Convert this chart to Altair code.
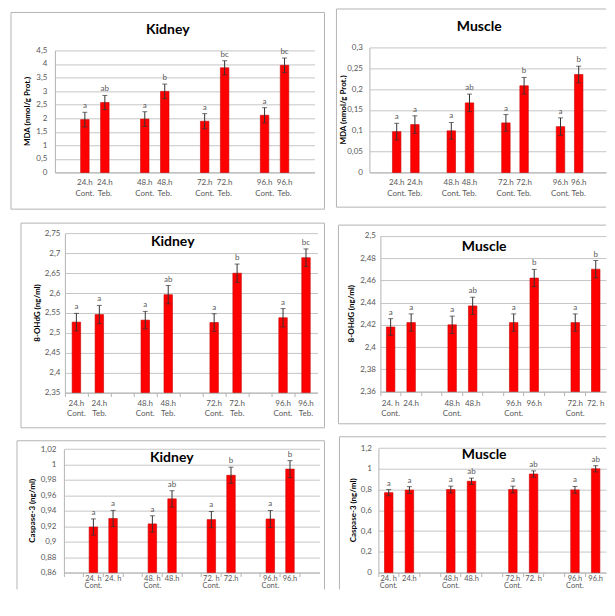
import altair as alt
import pandas as pd

FONT = "Lato"
GRAY_TXT = "#595959"
GRID = "#c6c6c6"
FRAME = "#b4b4b4"

# category slot layouts (None = empty slot between pairs)
LAYOUT_13 = [None, 0, 1, None, 2, 3, None, 4, 5, None, 6, 7, None]
LAYOUT_11 = [0, 1, None, 2, 3, None, 4, 5, None, 6, 7]

# ---------- Panel 1 : MDA, Kidney ----------
p1_labels = ["24.h\nCont.", "24.h\nTeb.", "48.h\nCont.", "48.h\nTeb.",
             "72.h\nCont.", "72.h\nTeb.", "96.h\nCont.", "96.h\nTeb."]
p1_values = [1.95, 2.58, 1.97, 2.99, 1.89, 3.86, 2.11, 3.95]
p1_errors = [0.27, 0.26, 0.27, 0.27, 0.28, 0.26, 0.28, 0.27]
p1_letters = ["a", "ab", "a", "b", "a", "bc", "a", "bc"]
p1_yticks = [0, 0.5, 1, 1.5, 2, 2.5, 3, 3.5, 4, 4.5]

# ---------- Panel 2 : MDA, Muscle ----------
p2_labels = ["24.h\nCont.", "24.h\nTeb.", "48.h\nCont.", "48.h\nTeb.",
             "72.h\nCont.", "72.h\nTeb.", "96.h\nCont.", "96.h\nTeb."]
p2_values = [0.098, 0.115, 0.100, 0.167, 0.119, 0.208, 0.110, 0.235]
p2_errors = [0.020, 0.021, 0.020, 0.021, 0.020, 0.020, 0.021, 0.020]
p2_letters = ["a", "a", "a", "ab", "a", "b", "a", "b"]
p2_yticks = [0, 0.05, 0.1, 0.15, 0.2, 0.25, 0.3]

# ---------- Panel 3 : 8-OHdG, Kidney ----------
p3_labels = ["24.h\nCont.", "24.h\nTeb.", "48.h\nCont.", "48.h\nTeb.",
             "72.h\nCont.", "72.h\nTeb.", "96.h\nCont.", "96.h\nTeb."]
p3_values = [2.527, 2.546, 2.532, 2.596, 2.526, 2.650, 2.538, 2.689]
p3_errors = [0.022, 0.023, 0.022, 0.023, 0.022, 0.023, 0.023, 0.022]
p3_letters = ["a", "a", "a", "ab", "a", "b", "a", "bc"]
p3_yticks = [2.35, 2.4, 2.45, 2.5, 2.55, 2.6, 2.65, 2.7, 2.75]

# ---------- Panel 4 : 8-OHdG, Muscle ----------
p4_labels = ["24. h\nCont.", "24.h", "48.h\nCont.", "48.h",
             "96.h\nCont.", "96.h", "72.h\nCont.", "72. h"]
p4_values = [2.418, 2.422, 2.420, 2.437, 2.422, 2.462, 2.422, 2.470]
p4_errors = [0.0075, 0.0078, 0.0078, 0.0078, 0.0078, 0.0078, 0.0078, 0.0078]
p4_letters = ["a", "a", "a", "ab", "a", "b", "a", "b"]
p4_yticks = [2.36, 2.38, 2.4, 2.42, 2.44, 2.46, 2.48, 2.5]

# ---------- Panel 5 : Caspase-3, Kidney ----------
p5_labels = ["24. h\nCont.", "24. h", "48. h\nCont.", "48.h",
             "72. h\nCont.", "72.h", "96.h\nCont.", "96.h"]
p5_values = [0.919, 0.930, 0.923, 0.9555, 0.9286, 0.986, 0.9294, 0.994]
p5_errors = [0.0105, 0.0105, 0.0105, 0.0105, 0.0105, 0.0105, 0.011, 0.011]
p5_letters = ["a", "a", "a", "ab", "a", "b", "a", "b"]
p5_yticks = [0.86, 0.88, 0.9, 0.92, 0.94, 0.96, 0.98, 1.0, 1.02]

# ---------- Panel 6 : Caspase-3, Muscle ----------
p6_labels = ["24. h\nCont.", "24.h", "48.h\nCont.", "48.h",
             "72.h\nCont.", "72. h", "96.h\nCont.", "96.h"]
p6_values = [0.77, 0.795, 0.80, 0.88, 0.80, 0.95, 0.797, 1.0]
p6_errors = [0.03, 0.033, 0.033, 0.03, 0.033, 0.03, 0.033, 0.03]
p6_letters = ["a", "a", "a", "ab", "a", "ab", "a", "ab"]
p6_yticks = [0, 0.2, 0.4, 0.6, 0.8, 1.0, 1.2]


def one():
    return pd.DataFrame({"d": [0]})


def panel(labels, values, errors, letters, yticks, fmt, title, ytitle, layout,
          plot, cell, frame, title_pos, ytitle_x, label_pad, xticks,
          line_h=11, lab_gap=7, lab_size=8):
    # all geometry given in page pixels, converted to cell-relative pixels
    cx1, cy1, cx2, cy2 = cell
    CW, CH = cx2 - cx1, cy2 - cy1

    def rx(v):
        return v - cx1

    def ry(v):
        return v - cy1

    px1, py1, px2, py2 = plot
    domain = [f"k{i}" if i is not None else f"gap{j}" for j, i in enumerate(layout)]
    df = pd.DataFrame({
        "key": [f"k{i}" for i in range(len(values))],
        "label": labels,
        "val": values,
        "lo": [v - e for v, e in zip(values, errors)],
        "hi": [v + e for v, e in zip(values, errors)],
        "letter": letters,
        "base": [yticks[0]] * len(values),
    })
    xs = alt.Scale(domain=domain, paddingInner=0, paddingOuter=0,
                   range=[rx(px1), rx(px2)])
    ys = alt.Scale(domain=[yticks[0], yticks[-1]], nice=False, zero=False,
                   range=[ry(py2), ry(py1)])

    xoff = -(cy2 - py2)
    if xticks:
        xaxis = alt.Axis(labels=False, title=None, grid=False, ticks=True, tickSize=4,
                         tickColor=FRAME, bandPosition=0, domainColor=FRAME, offset=xoff)
    else:
        xaxis = alt.Axis(labels=False, title=None, grid=False, ticks=False,
                         domainColor=FRAME, offset=xoff)
    yaxis = alt.Axis(values=yticks, format=fmt,
                     labelExpr="replace(datum.label, '.', ',')",
                     grid=True, gridColor=GRID, domainColor=FRAME, ticks=False,
                     labelPadding=label_pad, labelFont=FONT, labelFontSize=8,
                     labelColor=GRAY_TXT, title=None, offset=-(px1 - cx1))

    X = alt.X("key:N", scale=xs, axis=xaxis)

    def Y(field):
        return alt.Y(field, scale=ys, axis=yaxis)

    fx1, fy1, fx2, fy2 = frame
    right_end = fx2 if fx2 is not None else cx2
    bottom_end = fy2 if fy2 is not None else cy2
    frame_layers = [
        alt.Chart(one()).mark_rule(color=FRAME, strokeWidth=1).encode(
            x=alt.value(rx(fx1)), x2=alt.value(rx(right_end)), y=alt.value(ry(fy1))),
        alt.Chart(one()).mark_rule(color=FRAME, strokeWidth=1).encode(
            x=alt.value(rx(fx1)), y=alt.value(ry(fy1)), y2=alt.value(ry(bottom_end))),
    ]
    if fx2 is not None:
        frame_layers.append(alt.Chart(one()).mark_rule(color=FRAME, strokeWidth=1).encode(
            x=alt.value(rx(fx2)), y=alt.value(ry(fy1)), y2=alt.value(ry(bottom_end))))
    if fy2 is not None:
        frame_layers.append(alt.Chart(one()).mark_rule(color=FRAME, strokeWidth=1).encode(
            x=alt.value(rx(fx1)), x2=alt.value(rx(right_end)), y=alt.value(ry(fy2))))

    base = alt.Chart(df)
    bars = base.mark_bar(size=8.5, color="#ff0000", stroke="#c80000", strokeWidth=0.6).encode(
        x=X, y=Y("val:Q"), y2="base:Q")
    err = base.mark_rule(color="#333333", strokeWidth=1).encode(
        x=X, y=Y("lo:Q"), y2="hi:Q")
    cap_hi = base.mark_tick(color="#333333", size=5, thickness=1).encode(
        x=X, y=Y("hi:Q"))
    cap_lo = base.mark_tick(color="#333333", size=5, thickness=1).encode(
        x=X, y=Y("lo:Q"))
    lett = base.mark_text(font=FONT, fontSize=8, color=GRAY_TXT, baseline="bottom", dy=-2).encode(
        x=X, y=Y("hi:Q"), text="letter:N")
    xlab = base.mark_text(font=FONT, fontSize=lab_size, color=GRAY_TXT, baseline="top",
                          lineBreak="\n", lineHeight=line_h).encode(
        x=X, y=alt.value(ry(py2) + lab_gap), text="label:N")

    tx, ty = title_pos
    ttl = alt.Chart(one()).mark_text(text=title, font=FONT, fontSize=14, fontWeight="bold",
                                     color="black", align="center", baseline="middle").encode(
        x=alt.value(rx(tx)), y=alt.value(ry(ty)))
    ytl = alt.Chart(one()).mark_text(text=ytitle, font=FONT, fontSize=8, fontWeight="bold",
                                     color="black", align="center", baseline="middle",
                                     angle=270).encode(
        x=alt.value(rx(ytitle_x)), y=alt.value(ry((py1 + py2) / 2)))

    return alt.layer(*frame_layers, bars, err, cap_hi, cap_lo, lett, xlab, ttl, ytl).properties(
        width=CW, height=CH)


BOTTOM = 590  # last page row the chart uses, so that the page never scrolls
RIGHT = 607   # last page column the chart uses

P1 = panel(p1_labels, p1_values, p1_errors, p1_letters, p1_yticks, ".1~f",
           "Kidney", "MDA (nmol/g Prot.)", LAYOUT_13,
           plot=(55, 50, 315, 172.3), cell=(8, 8, 331, 217),
           frame=(11, 12, 325, 209), title_pos=(168, 30), ytitle_x=28,
           label_pad=8, xticks=False)
P2 = panel(p2_labels, p2_values, p2_errors, p2_letters, p2_yticks, ".2~f",
           "Muscle", "MDA (nmol/g Prot.)", LAYOUT_13,
           plot=(370, 47, RIGHT, 172.3), cell=(331, 8, RIGHT, 217),
           frame=(337, 8.5, None, 207), title_pos=(480, 27), ytitle_x=345,
           label_pad=7, xticks=False)
P3 = panel(p3_labels, p3_values, p3_errors, p3_letters, p3_yticks, ".2~f",
           "Kidney", "8-OHdG (ng/ml)", LAYOUT_11,
           plot=(65, 233.3, 318, 392.7), cell=(8, 217, 331, 433),
           frame=(21, 223, 325, 428), title_pos=(173, 242), ytitle_x=38,
           label_pad=5, xticks=True)
P4 = panel(p4_labels, p4_values, p4_errors, p4_letters, p4_yticks, ".2~f",
           "Muscle", "8-OHdG (ng/ml)", LAYOUT_11,
           plot=(381, 235.7, RIGHT, 391.7), cell=(331, 217, RIGHT, 433),
           frame=(339, 225, None, 424), title_pos=(485, 247), ytitle_x=353,
           label_pad=5, xticks=True, lab_gap=8)
P5 = panel(p5_labels, p5_values, p5_errors, p5_letters, p5_yticks, ".2~f",
           "Kidney", "Caspase-3 (ng/ml)", LAYOUT_13,
           plot=(64, 449.3, 320, 573), cell=(8, 433, 331, BOTTOM),
           frame=(17, 441, 325, None), title_pos=(172, 458), ytitle_x=33,
           label_pad=8, xticks=True, line_h=7.5, lab_gap=2, lab_size=7.5)
P6 = panel(p6_labels, p6_values, p6_errors, p6_letters, p6_yticks, ".1~f",
           "Muscle", "Caspase-3 (ng/ml)", LAYOUT_11,
           plot=(379, 448.3, RIGHT, 573), cell=(331, 433, RIGHT, BOTTOM),
           frame=(340, 437, None, None), title_pos=(485, 455), ytitle_x=355,
           label_pad=7, xticks=True, line_h=7.5, lab_gap=2, lab_size=7.5)

chart = alt.concat(P1, P2, P3, P4, P5, P6, columns=2, spacing=0,
                   bounds="flush", align="each").properties(
    padding=0, background="white"
).configure_view(stroke=None)

chart.save("out.html", embed_options={"renderer": "svg", "actions": False})
